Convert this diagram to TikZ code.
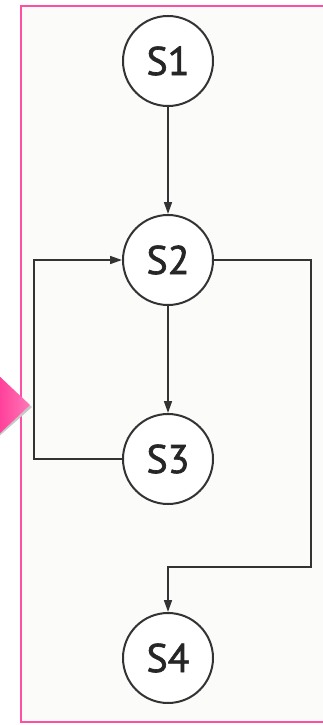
\documentclass[tikz,border=0pt]{standalone}
\usepackage{fontspec}
\setmainfont{PT Sans}
\newfontfamily\nodefont[FakeBold=1.6]{PT Sans}
\usetikzlibrary{arrows.meta,positioning}

\definecolor{framepink}{HTML}{FF4FA3}
\definecolor{arrowpink}{HTML}{FF3A97}
\definecolor{lightpink}{HTML}{FF78B9}
\definecolor{panelgrey}{HTML}{FBFBF9}
\definecolor{inkgrey}{HTML}{333333}

\begin{document}
\begin{tikzpicture}[x=1pt,y=-1pt,->,>={Triangle[length=12pt,width=8pt]},node distance=199pt,line width=1.6pt,draw=inkgrey]
  \tikzstyle{every state}=[circle,draw=inkgrey,line width=2pt,fill=white,minimum size=90pt,inner sep=0pt,
    text=black!85,font=\nodefont\fontsize{40}{40}\selectfont]

  \useasboundingbox (0,0) rectangle (323,725);

  % panel and pointer
  \fill[panelgrey] (21,6) rectangle (330,722);
  \draw[-,framepink,line width=1.8pt] (330,6) -- (21,6) -- (21,722) -- (330,722);
  \fill[black!22] (-4,377) -- (32,407) -- (-4,439) -- cycle;
  \shade[left color=arrowpink,right color=lightpink] (-4,373) -- (30,405) -- (-4,437) -- cycle;

  \node[every state] (s1) at (168,61) {S1};
  \node[every state] (s2) [below of=s1] {S2};
  \node[every state] (s3) [below of=s2] {S3};
  \node[every state] (s4) [below of=s3] {S4};

  \coordinate (loop) at (34,459);
  \coordinate (bend) at (311,567);

  \path[draw=inkgrey]
  (s1) edge (s2)
  (s2) edge (s3);
  \draw[draw=inkgrey] (s3) -- (loop) |- (s2);
  \draw[draw=inkgrey] (s2) -| (bend) -| (s4);
\end{tikzpicture}
\end{document}
